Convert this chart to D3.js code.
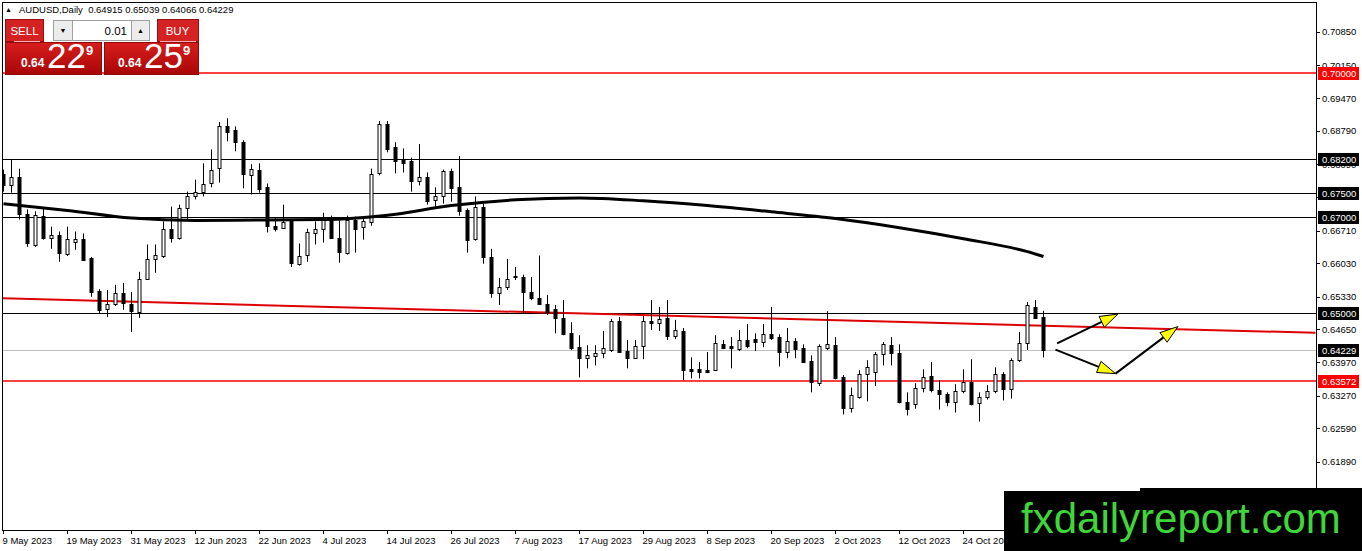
<!DOCTYPE html>
<html>
<head>
<meta charset="utf-8">
<script src="https://cdn.jsdelivr.net/npm/d3@7"></script>
<style>
  body { margin: 0; background: #fff; }
  svg { display: block; }
  text { font-family: "Liberation Sans", Arial, sans-serif; }
</style>
</head>
<body>
<svg id="chart" width="1362" height="551"></svg>
<script>
// AUDUSD daily candles, one per trading day from 9 May 2023
const opens = [
  0.6788, 0.6765, 0.6782, 0.6706, 0.6642, 0.6702, 0.6656, 0.6662, 0.6623, 0.6648,
  0.6654, 0.6614, 0.6545, 0.6508, 0.6518, 0.6541, 0.6518, 0.6501, 0.6570, 0.6612,
  0.6619, 0.6675, 0.6656, 0.6719, 0.6744, 0.6752, 0.6771, 0.6800, 0.6888, 0.6880,
  0.6855, 0.6788, 0.6798, 0.6761, 0.6681, 0.6675, 0.6690, 0.6602, 0.6619, 0.6667,
  0.6675, 0.6698, 0.6656, 0.6625, 0.6694, 0.6677, 0.6688, 0.6790, 0.6893, 0.6846,
  0.6821, 0.6815, 0.6773, 0.6782, 0.6733, 0.6742, 0.6794, 0.6761, 0.6713, 0.6654,
  0.6721, 0.6616, 0.6541, 0.6554, 0.6577, 0.6574, 0.6543, 0.6531, 0.6518, 0.6508,
  0.6489, 0.6457, 0.6428, 0.6405, 0.6409, 0.6416, 0.6422, 0.6482, 0.6420, 0.6405,
  0.6430, 0.6482, 0.6478, 0.6489, 0.6451, 0.6462, 0.6382, 0.6382, 0.6380, 0.6380,
  0.6434, 0.6430, 0.6424, 0.6443, 0.6445, 0.6439, 0.6455, 0.6449, 0.6418, 0.6441,
  0.6426, 0.6399, 0.6353, 0.6426, 0.6432, 0.6365, 0.6300, 0.6324, 0.6372, 0.6376,
  0.6414, 0.6432, 0.6416, 0.6313, 0.6309, 0.6342, 0.6367, 0.6338, 0.6330, 0.6313,
  0.6336, 0.6355, 0.6311, 0.6324, 0.6336, 0.6372, 0.6340, 0.6401, 0.6436, 0.6512,
  0.64915
];
const highs = [
  0.6798, 0.6819, 0.6800, 0.6715, 0.6711, 0.6719, 0.6679, 0.6669, 0.6679, 0.6669,
  0.6665, 0.6616, 0.6549, 0.6547, 0.6558, 0.6562, 0.6543, 0.6585, 0.6642, 0.6642,
  0.6690, 0.6721, 0.6725, 0.6752, 0.6777, 0.6811, 0.6840, 0.6897, 0.6905, 0.6888,
  0.6859, 0.6809, 0.6811, 0.6769, 0.6698, 0.6725, 0.6690, 0.6644, 0.6675, 0.6690,
  0.6708, 0.6702, 0.6692, 0.6702, 0.6700, 0.6700, 0.6800, 0.6899, 0.6899, 0.6855,
  0.6842, 0.6823, 0.6851, 0.6792, 0.6761, 0.6798, 0.6800, 0.6826, 0.6717, 0.6742,
  0.6727, 0.6633, 0.6572, 0.6612, 0.6595, 0.6579, 0.6574, 0.6619, 0.6537, 0.6516,
  0.6526, 0.6480, 0.6453, 0.6432, 0.6432, 0.6462, 0.6487, 0.6491, 0.6443, 0.6443,
  0.6493, 0.6526, 0.6512, 0.6526, 0.6485, 0.6468, 0.6407, 0.6397, 0.6418, 0.6453,
  0.6443, 0.6449, 0.6464, 0.6476, 0.6457, 0.6476, 0.6512, 0.6455, 0.6468, 0.6447,
  0.6434, 0.6411, 0.6434, 0.6503, 0.6449, 0.6370, 0.6344, 0.6380, 0.6401, 0.6418,
  0.6439, 0.6449, 0.6434, 0.6334, 0.6353, 0.6382, 0.6397, 0.6359, 0.6334, 0.6351,
  0.6382, 0.6403, 0.6334, 0.6349, 0.6386, 0.6376, 0.6405, 0.6460, 0.6522, 0.6526,
  0.65039
];
const lows = [
  0.6752, 0.6750, 0.6694, 0.6637, 0.6637, 0.6652, 0.6633, 0.6606, 0.6618, 0.6631,
  0.6608, 0.6533, 0.6499, 0.6491, 0.6514, 0.6506, 0.6460, 0.6489, 0.6568, 0.6583,
  0.6614, 0.6646, 0.6652, 0.6694, 0.6736, 0.6742, 0.6761, 0.6771, 0.6857, 0.6836,
  0.6759, 0.6746, 0.6750, 0.6667, 0.6669, 0.6674, 0.6595, 0.6598, 0.6606, 0.6642,
  0.6646, 0.6655, 0.6604, 0.6621, 0.6625, 0.6652, 0.6681, 0.6786, 0.6834, 0.6790,
  0.6792, 0.6752, 0.6765, 0.6725, 0.6719, 0.6727, 0.6731, 0.6702, 0.6625, 0.6650,
  0.6602, 0.6531, 0.6516, 0.6547, 0.6568, 0.6497, 0.6526, 0.6516, 0.6495, 0.6457,
  0.6453, 0.6422, 0.6365, 0.6384, 0.6390, 0.6405, 0.6418, 0.6416, 0.6384, 0.6404,
  0.6403, 0.6464, 0.6462, 0.6443, 0.6445, 0.6359, 0.6363, 0.6363, 0.6374, 0.6379,
  0.6424, 0.6384, 0.6420, 0.6426, 0.6420, 0.6428, 0.6443, 0.6388, 0.6405, 0.6405,
  0.6396, 0.6334, 0.6347, 0.6422, 0.6361, 0.6288, 0.6292, 0.6321, 0.6315, 0.6347,
  0.6390, 0.6390, 0.6311, 0.6286, 0.6300, 0.6334, 0.6334, 0.6298, 0.6305, 0.6292,
  0.6332, 0.6307, 0.6273, 0.6319, 0.6332, 0.6317, 0.6321, 0.6397, 0.6422, 0.6487,
  0.64066
];
const closes = [
  0.6765, 0.6782, 0.6704, 0.6646, 0.6704, 0.6656, 0.6662, 0.6625, 0.6654, 0.6654,
  0.6610, 0.6543, 0.6506, 0.6518, 0.6541, 0.6520, 0.6503, 0.6570, 0.6612, 0.6621,
  0.6675, 0.6656, 0.6719, 0.6744, 0.6752, 0.6769, 0.6798, 0.6888, 0.6876, 0.6855,
  0.6788, 0.6800, 0.6759, 0.6679, 0.6675, 0.6688, 0.6602, 0.6619, 0.6667, 0.6675,
  0.6698, 0.6656, 0.6627, 0.6694, 0.6675, 0.6690, 0.6788, 0.6893, 0.6840, 0.6817,
  0.6813, 0.6773, 0.6782, 0.6731, 0.6742, 0.6794, 0.6759, 0.6711, 0.6650, 0.6721,
  0.6616, 0.6541, 0.6554, 0.6570, 0.6576, 0.6543, 0.6531, 0.6518, 0.6501, 0.6489,
  0.6455, 0.6426, 0.6405, 0.6411, 0.6416, 0.6426, 0.6482, 0.6418, 0.6405, 0.6430,
  0.6482, 0.6478, 0.6487, 0.6451, 0.6464, 0.6380, 0.6378, 0.6376, 0.6376, 0.6436,
  0.6426, 0.6426, 0.6443, 0.6430, 0.6439, 0.6455, 0.6447, 0.6418, 0.6441, 0.6424,
  0.6397, 0.6355, 0.6430, 0.6434, 0.6363, 0.6300, 0.6328, 0.6372, 0.6386, 0.6414,
  0.6434, 0.6416, 0.6313, 0.6298, 0.6342, 0.6365, 0.6338, 0.6330, 0.6313, 0.6336,
  0.6355, 0.6309, 0.6324, 0.6336, 0.6372, 0.6340, 0.6401, 0.6436, 0.6516, 0.6489,
  0.64229
];

// moving average (thick black curve), read at every 8th bar
const maBars = [0, 8, 16, 24, 32, 40, 48, 56, 64, 72, 80, 88, 96, 104, 112, 120, 128, 130];
const maValues = [0.6727, 0.6713, 0.6697, 0.6692, 0.6693, 0.6694, 0.6703, 0.6723, 0.6735, 0.6739,
  0.6733, 0.6723, 0.6710, 0.6696, 0.6677, 0.6654, 0.6627, 0.6617];

// red trendline
const trendBars = [0, 164];
const trendPrices = [0.6530, 0.6458];

// horizontal levels
const redLevels = [0.70000, 0.63572];
const blackLevels = [0.68200, 0.67500, 0.67000, 0.65000];
const bidPrice = 0.64229;

// hand-drawn arrows: [bar, price] start -> end
const arrows = [
  [[131.7, 0.6436], [139.3, 0.6497]],
  [[131.5, 0.6423], [139.0, 0.6373]],
  [[139.0, 0.6373], [146.8, 0.6471]]
];

// axis labels
const priceTicks = [0.70850, 0.70150, 0.69470, 0.68790, 0.68090, 0.67410, 0.66710,
  0.66030, 0.65330, 0.64650, 0.63970, 0.63270, 0.62590, 0.61890];
const timeLabels = ["9 May 2023", "19 May 2023", "31 May 2023", "12 Jun 2023", "22 Jun 2023",
  "4 Jul 2023", "14 Jul 2023", "26 Jul 2023", "7 Aug 2023", "17 Aug 2023", "29 Aug 2023",
  "8 Sep 2023", "20 Sep 2023", "2 Oct 2023", "12 Oct 2023", "24 Oct 2023"];
const labelStep = 8;

const headerText = "AUDUSD,Daily  0.64915 0.65039 0.64066 0.64229";

// ---------------------------------------------------------------
const svg = d3.select("#chart");
const plot = { left: 3, top: 3, right: 1316, bottom: 530 };

const x = d3.scaleLinear().domain([0, 130]).range([3.5, 1043.5]);
const y = d3.scaleLinear().domain([0.70, 0.63572]).range([72.6, 381.2]);

const candles = opens.map(function (o, i) {
  return { i: i, o: o, h: highs[i], l: lows[i], c: closes[i] };
});

svg.append("rect").attr("width", 1362).attr("height", 551).attr("fill", "#fff");

svg.append("defs").append("clipPath").attr("id", "clip")
  .append("rect")
  .attr("x", plot.left).attr("y", plot.top)
  .attr("width", plot.right - plot.left).attr("height", plot.bottom - plot.top);

const g = svg.append("g").attr("clip-path", "url(#clip)");

function levelY(d) {
  return Math.round(y(d)) + 0.5;
}

// Level lines
g.append("line")
  .attr("x1", plot.left).attr("x2", plot.right)
  .attr("y1", levelY(bidPrice)).attr("y2", levelY(bidPrice))
  .attr("stroke", "#c0c0c0")
  .attr("shape-rendering", "crispEdges");

g.selectAll("line.black-level")
  .data(blackLevels)
  .enter()
  .append("line")
  .classed("black-level", true)
  .attr("x1", plot.left).attr("x2", plot.right)
  .attr("y1", levelY)
  .attr("y2", levelY)
  .attr("stroke", "#000")
  .attr("shape-rendering", "crispEdges");

// red levels: slightly wider so the red survives image compression
g.selectAll("line.red-level")
  .data(redLevels)
  .enter()
  .append("line")
  .classed("red-level", true)
  .attr("x1", plot.left).attr("x2", plot.right)
  .attr("y1", function (d) { return Math.round(y(d)); })
  .attr("y2", function (d) { return Math.round(y(d)); })
  .attr("stroke", "#ff0000")
  .attr("stroke-width", 1.6);

// Trendline
g.append("line")
  .attr("x1", x(trendBars[0]) - 4).attr("y1", y(trendPrices[0]))
  .attr("x2", x(trendBars[1])).attr("y2", y(trendPrices[1]))
  .attr("stroke", "#dd0000")
  .attr("stroke-width", 2);

// Candles
const cg = g.selectAll("g.candle")
  .data(candles)
  .enter()
  .append("g")
  .classed("candle", true);

cg.append("line")
  .attr("x1", function (d) { return x(d.i); })
  .attr("x2", function (d) { return x(d.i); })
  .attr("y1", function (d) { return y(d.h); })
  .attr("y2", function (d) { return y(d.l); })
  .attr("stroke", "#000");

cg.append("rect")
  .attr("x", function (d) { return x(d.i) - 1.5; })
  .attr("width", 3)
  .attr("y", function (d) { return Math.round(y(Math.max(d.o, d.c))) + 0.5; })
  .attr("height", function (d) {
    return Math.max(1, Math.round(y(Math.min(d.o, d.c)) - y(Math.max(d.o, d.c))));
  })
  .attr("fill", function (d) { return d.c < d.o ? "#000" : "#fff"; })
  .attr("stroke", "#000");

// Moving average
const ma = maBars.map(function (b, i) { return [b, maValues[i]]; });
g.append("path")
  .datum(ma)
  .attr("d", d3.line()
    .x(function (d) { return x(d[0]); })
    .y(function (d) { return y(d[1]); })
    .curve(d3.curveMonotoneX))
  .attr("fill", "none")
  .attr("stroke", "#000")
  .attr("stroke-width", 3);

// Arrows
arrows.forEach(function (a) {
  const x1 = x(a[0][0]), y1 = y(a[0][1]);
  const x2 = x(a[1][0]), y2 = y(a[1][1]);
  const ang = Math.atan2(y2 - y1, x2 - x1);
  const len = 18, half = 6;
  const bx = x2 - len * Math.cos(ang), by = y2 - len * Math.sin(ang);
  g.append("line")
    .attr("x1", x1).attr("y1", y1).attr("x2", bx).attr("y2", by)
    .attr("stroke", "#000").attr("stroke-width", 2);
  const pts = [
    [x2, y2],
    [bx + half * Math.sin(ang), by - half * Math.cos(ang)],
    [bx - half * Math.sin(ang), by + half * Math.cos(ang)]
  ];
  g.append("polygon")
    .attr("points", pts.map(function (p) { return p.join(","); }).join(" "))
    .attr("fill", "#ffff00")
    .attr("stroke", "#000")
    .attr("stroke-width", 1);
});

// Frame
svg.append("rect")
  .attr("x", 2.5).attr("y", 2.5)
  .attr("width", plot.right - 2).attr("height", plot.bottom - 2)
  .attr("fill", "none").attr("stroke", "#000");

// Price axis
const pa = svg.append("g");
pa.selectAll("line")
  .data(priceTicks)
  .enter()
  .append("line")
  .attr("x1", plot.right).attr("x2", plot.right + 4)
  .attr("y1", levelY)
  .attr("y2", levelY)
  .attr("stroke", "#000");
pa.selectAll("text")
  .data(priceTicks)
  .enter()
  .append("text")
  .attr("x", plot.right + 6)
  .attr("y", function (d) { return y(d) + 3.5; })
  .attr("font-size", "9.5px")
  .attr("fill", "#000")
  .text(function (d) { return d.toFixed(5); });

// Level price boxes
const boxes = [{ p: bidPrice, bg: "#000" }]
  .concat(blackLevels.map(function (d) { return { p: d, bg: "#000" }; }))
  .concat(redLevels.map(function (d) { return { p: d, bg: "#ff0000" }; }));
const bx = svg.selectAll("g.box")
  .data(boxes)
  .enter()
  .append("g")
  .classed("box", true);
bx.append("rect")
  .attr("x", plot.right + 2)
  .attr("y", function (d) { return Math.round(y(d.p)) - 6; })
  .attr("width", 41).attr("height", 13)
  .attr("fill", function (d) { return d.bg; });
bx.append("text")
  .attr("x", plot.right + 6)
  .attr("y", function (d) { return Math.round(y(d.p)) + 4; })
  .attr("font-size", "9.5px")
  .attr("fill", "#fff")
  .text(function (d) { return d.p.toFixed(5); });

// Time axis
const ta = svg.selectAll("g.tick")
  .data(timeLabels)
  .enter()
  .append("g")
  .classed("tick", true);
ta.append("line")
  .attr("x1", function (d, i) { return Math.round(x(i * labelStep)) - 0.5; })
  .attr("x2", function (d, i) { return Math.round(x(i * labelStep)) - 0.5; })
  .attr("y1", plot.bottom).attr("y2", plot.bottom + 4)
  .attr("stroke", "#000");
ta.append("text")
  .attr("x", function (d, i) { return x(i * labelStep) - 1; })
  .attr("y", 544)
  .attr("font-size", "9.5px")
  .attr("fill", "#000")
  .text(function (d) { return d; });

// Header
svg.append("text").attr("x", 5).attr("y", 12).attr("font-size", "7px").text("▲");
svg.append("text").attr("x", 19).attr("y", 12.5).attr("font-size", "9.5px").attr("fill", "#000")
  .attr("xml:space", "preserve").text(headerText);

// One-click trading panel
const grad = svg.select("defs").append("linearGradient")
  .attr("id", "redgrad").attr("x1", 0).attr("y1", 0).attr("x2", 0).attr("y2", 1);
grad.append("stop").attr("offset", "0%").attr("stop-color", "#d81d1d");
grad.append("stop").attr("offset", "100%").attr("stop-color", "#a80606");

const panel = svg.append("g");
panel.append("rect").attr("x", 5.5).attr("y", 42.5).attr("width", 96).attr("height", 32)
  .attr("fill", "url(#redgrad)").attr("stroke", "#8c0a0a");
panel.append("rect").attr("x", 104.5).attr("y", 42.5).attr("width", 94).attr("height", 32)
  .attr("fill", "url(#redgrad)").attr("stroke", "#8c0a0a");
panel.append("rect").attr("x", 5.5).attr("y", 19.5).attr("width", 38).attr("height", 22)
  .attr("fill", "#d42222").attr("stroke", "#9c0c0c");
panel.append("rect").attr("x", 157.5).attr("y", 19.5).attr("width", 41).attr("height", 22)
  .attr("fill", "#d42222").attr("stroke", "#9c0c0c");
panel.append("line").attr("x1", 14).attr("x2", 40).attr("y1", 41.5).attr("y2", 41.5).attr("stroke", "#f3b3b3");
panel.append("line").attr("x1", 160).attr("x2", 196).attr("y1", 41.5).attr("y2", 41.5).attr("stroke", "#f3b3b3");
panel.append("rect").attr("x", 53.5).attr("y", 20.5).attr("width", 96).attr("height", 20)
  .attr("fill", "#fff").attr("stroke", "#a0a0a0");
panel.append("rect").attr("x", 53.5).attr("y", 20.5).attr("width", 19).attr("height", 20)
  .attr("fill", "#ececec").attr("stroke", "#a0a0a0");
panel.append("rect").attr("x", 131.5).attr("y", 20.5).attr("width", 18).attr("height", 20)
  .attr("fill", "#ececec").attr("stroke", "#a0a0a0");
panel.append("text").attr("x", 63).attr("y", 33).attr("text-anchor", "middle").attr("font-size", "7px").text("▼");
panel.append("text").attr("x", 140.5).attr("y", 33).attr("text-anchor", "middle").attr("font-size", "7px").text("▲");
panel.append("text").attr("x", 127).attr("y", 35).attr("text-anchor", "end").attr("font-size", "11.5px").text("0.01");
panel.append("text").attr("x", 24.5).attr("y", 35).attr("text-anchor", "middle").attr("font-size", "11.5px")
  .attr("fill", "#fff").text("SELL");
panel.append("text").attr("x", 177.5).attr("y", 35).attr("text-anchor", "middle").attr("font-size", "11.5px")
  .attr("fill", "#fff").text("BUY");

const quotes = [
  { x: 21, big: "22", pip: "9" },
  { x: 118, big: "25", pip: "9" }
];
quotes.forEach(function (q) {
  panel.append("text").attr("x", q.x).attr("y", 67).attr("font-size", "12px")
    .attr("font-weight", "bold").attr("fill", "#fff").text("0.64");
  panel.append("text").attr("x", q.x + 26).attr("y", 68).attr("font-size", "35px")
    .attr("fill", "#fff").text(q.big);
  panel.append("text").attr("x", q.x + 65).attr("y", 55).attr("font-size", "13px")
    .attr("font-weight", "bold").attr("fill", "#fff").text(q.pip);
});

// Watermark
svg.append("rect").attr("x", 1004).attr("y", 491).attr("width", 358).attr("height", 60).attr("fill", "#000");
svg.append("rect").attr("x", 1140).attr("y", 488).attr("width", 222).attr("height", 63).attr("fill", "#000");
svg.append("text")
  .attr("x", 1021).attr("y", 533)
  .attr("font-size", "42px")
  .attr("fill", "#3fd63a")
  .text("fxdailyreport.com");
</script>
</body>
</html>
